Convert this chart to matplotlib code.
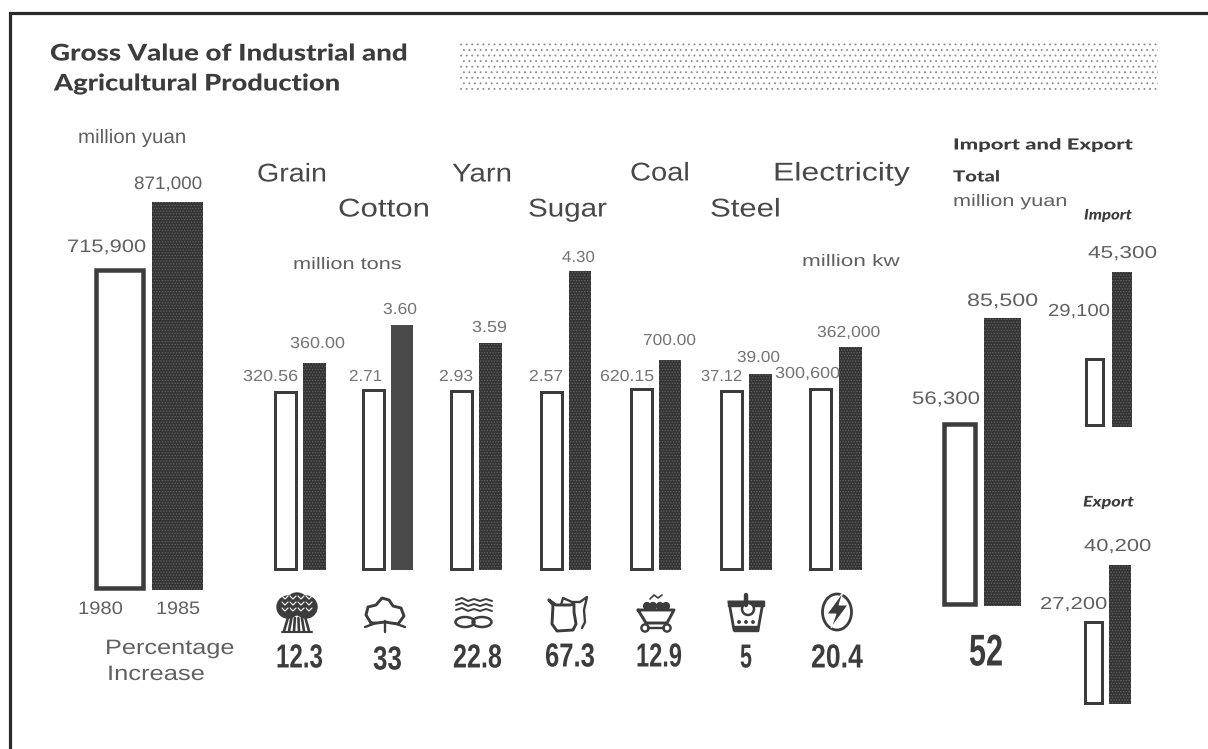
import matplotlib
matplotlib.use("Agg")
import matplotlib.pyplot as plt
from matplotlib.patches import Rectangle, Ellipse, Polygon, Circle
from matplotlib.lines import Line2D
from matplotlib.patheffects import AbstractPathEffect
from matplotlib.transforms import Affine2D

W, H = 1208, 749
INK = "#3c3c3c"
SOFT = "#606060"
PALE = "#747474"
SANS = "Liberation Sans"
HEAVY = "Lato"

# ---------- data ----------
years = ["1980", "1985"]
gross_value = [715900, 871000]
products = ["Grain", "Cotton", "Yarn", "Sugar", "Coal", "Steel", "Electricity"]
product_1980 = [320.56, 2.71, 2.93, 2.57, 620.15, 37.12, 300600]
product_1985 = [360.00, 3.60, 3.59, 4.30, 700.00, 39.00, 362000]
product_1980_labels = ["320.56", "2.71", "2.93", "2.57", "620.15", "37.12", "300,600"]
product_1985_labels = ["360.00", "3.60", "3.59", "4.30", "700.00", "39.00", "362,000"]
percent_increase = ["12.3", "33", "22.8", "67.3", "12.9", "5", "20.4"]
trade_total = [56300, 85500]
trade_import = [29100, 45300]
trade_export = [27200, 40200]
trade_increase = "52"

plt.rcParams["hatch.linewidth"] = 0.6
fig = plt.figure(figsize=(W / 100, H / 100), dpi=100, facecolor="white")
renderer = fig.canvas.get_renderer()


class StretchX(AbstractPathEffect):
    """Widen or narrow a text's glyphs, the text stays text."""

    def __init__(self, sx):
        super().__init__()
        self.sx = sx

    def draw_path(self, rend, gc, tpath, affine, rgbFace=None):
        rend.draw_path(gc, tpath, Affine2D().scale(self.sx, 1) + affine, rgbFace)


def pair(values, white_x, dark_x, white_top, dark_top, base, lw=2.6, solid=False):
    """White and dark bar on one value scale fitted to the panel's height."""
    wc, dc = sum(white_x) / 2, sum(dark_x) / 2
    pitch = dc - wc
    left, right = wc - pitch / 2, dc + pitch / 2
    ax = fig.add_axes([left / W, 1 - base / H, (right - left) / W, (base - dark_top) / H])
    ax.axis("off")
    ax.patch.set_alpha(0)
    ax.set_xlim(-0.5, 1.5)
    unit = (values[1] - values[0]) / ((white_top + lw / 2) - dark_top)  # value per pixel
    low = values[1] - unit * (base - dark_top)
    ax.set_ylim(low, values[1])
    foot = low + unit * lw / 2
    ax.bar([0], [values[0] - foot], bottom=foot, width=(white_x[1] - white_x[0] - lw) / pitch,
           facecolor="white", edgecolor=INK, linewidth=lw * 0.72, clip_on=False)
    ax.bar([1], [values[1] - low], bottom=low, width=(dark_x[1] - dark_x[0]) / pitch,
           facecolor="#4a4a4a" if solid else "#343434",
           edgecolor="#4a4a4a" if solid else "#636363",
           hatch=None if solid else "......", linewidth=0, clip_on=False)


# ---------- bars ----------
pair(gross_value, (94, 145), (152, 203), 268, 202, 590, lw=4.5)

white_spans = [(273, 297), (361, 385), (449, 473), (539, 563), (629, 653), (719, 743), (808, 832)]
dark_spans = [(303, 326), (391, 413), (479, 502), (569, 591), (659, 681), (749, 772), (839, 862)]
white_tops = [390, 388, 390, 390, 387, 389, 387]
dark_tops = [363, 325, 343, 271, 360, 374, 347]
for i in range(len(products)):
    pair([product_1980[i], product_1985[i]], white_spans[i], dark_spans[i], white_tops[i], dark_tops[i],
         570, lw=3.0, solid=products[i] == "Cotton")

pair(trade_total, (942, 977), (984, 1021), 422, 318, 606, lw=4.5)
pair(trade_import, (1084, 1104), (1112, 1132), 358, 272, 427, lw=3.0)
pair(trade_export, (1083, 1103), (1109, 1131), 620, 565, 704, lw=3.0)

# ---------- overlay in pixel space ----------
ov = fig.add_axes([0, 0, 1, 1])
ov.set_xlim(0, W)
ov.set_ylim(H, 0)
ov.axis("off")
ov.patch.set_alpha(0)

ov.add_line(Line2D([10, 10, W], [H, 13, 13], color="#2a2a2a", lw=2.3, solid_joinstyle="miter"))
ov.add_patch(Rectangle((460, 41), 698, 52, facecolor="white", edgecolor="#8c8c8c", hatch="...", linewidth=0))


def t(x0, x1, y, s, size=12.5, color=SOFT, family=SANS, dy=1.5, **kw):
    """Text filling the span x0..x1 on the line centred at y."""
    txt = ov.text(x0, y + dy, s, fontsize=size, color=color, family=family, ha="left", va="center", **kw)
    txt.set_path_effects([StretchX((x1 - x0) / txt.get_window_extent(renderer).width)])
    return txt


t(50, 407, 54, "Gross Value of Industrial and", 16.5, INK, HEAVY, dy=0, weight="black")
t(54, 339, 84, "Agricultural Production", 16.5, INK, HEAVY, dy=0, weight="black")
t(78, 187, 137, "million yuan", 14)
t(134, 202, 183, "871,000", 13)
t(67, 146, 246, "715,900", 13)
t(78, 123, 608, years[0], 13)
t(156, 200, 608, years[1], 13)
t(105, 235, 647, "Percentage", 15)
t(107, 205, 673, "Increase", 15)

name_x = [(257, 327), (338, 430), (452, 512), (528, 607), (630, 690), (710, 781), (773, 910)]
name_y = [173, 208, 173, 208, 172, 208, 172]
for name, (a, b), y in zip(products, name_x, name_y):
    t(a, b, y, name, 18.5, "#484848")
t(293, 402, 263, "million tons", 12)
t(802, 900, 260, "million kw", 12)

x_80 = [(243, 298), (349, 382), (439, 473), (529, 563), (600, 654), (701, 742), (775, 840)]
y_80 = [375, 375, 375, 375, 375, 375, 372]
x_85 = [(290, 345), (383, 417), (472, 507), (562, 595), (643, 696), (737, 780), (817, 880)]
y_85 = [342, 308, 326, 256, 339, 356, 331]
for s, (a, b), y in zip(product_1980_labels, x_80, y_80):
    t(a, b, y, s, 11.5, PALE)
for s, (a, b), y in zip(product_1985_labels, x_85, y_85):
    t(a, b, y, s, 11.5, PALE)

pct_x = [(276, 323), (373, 402), (453, 502), (545, 595), (636, 682), (740, 752), (811, 863)]
pct_y = [659, 661, 659, 658, 658, 659, 659]
for s, (a, b), y in zip(percent_increase, pct_x, pct_y):
    t(a, b, y, s, 24, INK, SANS, dy=0, weight="bold")
t(969, 1003, 654, trade_increase, 32, INK, SANS, dy=0, weight="bold")

t(953, 1133, 145, "Import and Export", 11, INK, HEAVY, dy=0.5, weight="black")
t(953, 1000, 177, "Total", 11, INK, HEAVY, dy=0.5, weight="black")
t(953, 1068, 200, "million yuan", 12)
t(1084, 1132, 215, "Import", 10.5, INK, HEAVY, dy=0.5, weight="black", style="italic")
t(1083, 1134, 502, "Export", 10.5, INK, HEAVY, dy=0.5, weight="black", style="italic")
t(912, 980, 398, "56,300", 13)
t(967, 1038, 300, "85,500", 13)
t(1048, 1110, 310, "29,100", 12.5)
t(1088, 1157, 252, "45,300", 12.5)
t(1040, 1107, 603, "27,200", 12.5)
t(1084, 1151, 545, "40,200", 12.5)


# ---------- product pictograms (decoration) ----------
def stroke(cx, cy, xs, ys, lw=1.8, color=INK):
    ov.add_line(Line2D([cx + v for v in xs], [cy + v for v in ys], color=color, lw=lw,
                       solid_capstyle="round", solid_joinstyle="round"))


def wheat(cx, cy):
    ov.add_patch(Ellipse((cx - 9, cy - 6), 22, 22, color=INK))
    ov.add_patch(Ellipse((cx + 9, cy - 6), 22, 22, color=INK))
    ov.add_patch(Ellipse((cx, cy - 9), 22, 22, color=INK))
    for dx in (-12, -4, 4, 12):
        for dy in (-15, -9, -3):
            stroke(cx, cy, [dx - 3, dx, dx + 3], [dy - 2, dy + 1, dy - 2], 0.8, "white")
    for dx in (-13, -8, -3, 2, 7, 12):
        stroke(cx, cy, [dx * 0.7, dx], [5, 18], 1.9)
    stroke(cx, cy, [-15, 15], [19, 19], 1.5)


def cotton(cx, cy):
    xs = [-14, -19, -17, -9, -3, 4, 8, 16, 19, 13, 6, 0, -8, -14]
    ys = [8, 0, -8, -10, -17, -15, -9, -7, 1, 9, 8, 7, 8, 8]
    stroke(cx, cy, xs, ys, 2.1)
    stroke(cx, cy, [-20, -9], [12, 8], 1.7)
    stroke(cx, cy, [20, 9], [12, 8], 1.7)
    stroke(cx, cy, [0, 0], [6, 17], 1.7)


def yarn(cx, cy):
    for y0 in (-14, -9, -4):
        stroke(cx, cy, [-18, -12, -6, 0, 6, 12, 18], [y0, y0 - 2, y0 + 1, y0 - 1, y0 + 1, y0 - 1, y0 + 1], 1.4)
    for dx in (-9, 8):
        ov.add_patch(Ellipse((cx + dx, cy + 8), 19, 10, fill=False, edgecolor=INK, lw=1.8))


def bag(cx, cy):
    stroke(cx, cy, [-19, -15, -16, -11, 5, 8, 6, 6, 2, -12, -19],
           [-14, -9, 10, 17, 16, 10, -2, -10, -9, -9, -14], 2.1)
    stroke(cx, cy, [-7, -5, 4, 12, 19, 16, 17, 14], [-9, -16, -12, -12, -17, -4, 8, 14], 1.7)


def cart(cx, cy):
    stroke(cx, cy, [-18, 18, 11, -10, -18], [-3, -3, 10, 10, -3], 2.1)
    for dx in (-9, -3, 4, 10):
        ov.add_patch(Circle((cx + dx, cy - 7), 3.4, color=INK))
    stroke(cx, cy, [-6, -2, 2, 6], [-14, -18, -15, -18], 1.2)
    for dx in (-11, 11):
        ov.add_patch(Circle((cx + dx, cy + 15), 3.6, fill=False, edgecolor=INK, lw=1.7))
    stroke(cx, cy, [-8, 8], [15, 15], 1.7)


def ladle(cx, cy):
    ov.add_patch(Polygon([(cx - 17, cy - 11), (cx + 17, cy - 11), (cx + 12, cy + 17), (cx - 12, cy + 17)],
                         closed=True, fill=False, edgecolor=INK, lw=2.0))
    ov.add_patch(Rectangle((cx - 18, cy - 12), 36, 5, color=INK))
    ov.add_patch(Rectangle((cx - 12, cy + 13), 24, 5, color=INK))
    ov.add_patch(Circle((cx + 2, cy - 4), 6, facecolor="white", edgecolor=INK, lw=1.8))
    stroke(cx, cy, [0, 0], [-18, -8], 3.2)
    for dx in (-7, 0, 7):
        ov.add_patch(Circle((cx + dx, cy + 9), 1.2, color=INK))


def bolt(cx, cy):
    ov.add_patch(Ellipse((cx, cy + 1), 29, 36, fill=False, edgecolor=INK, lw=2.0))
    ov.add_patch(Polygon([(cx + 6, cy - 19), (cx - 10, cy + 3), (cx - 1, cy + 3), (cx - 6, cy + 17),
                          (cx + 11, cy - 6), (cx + 2, cy - 6)], closed=True, facecolor=INK,
                         edgecolor="white", lw=0.7))


icon_draw = [wheat, cotton, yarn, bag, cart, ladle, bolt]
icon_x = [297, 385, 474, 568, 656, 746, 837]
icon_y = [613, 615, 614, 614, 613, 613, 611]
for draw, x, y in zip(icon_draw, icon_x, icon_y):
    draw(x, y)

fig.savefig("out.png", dpi=100, facecolor="white")
